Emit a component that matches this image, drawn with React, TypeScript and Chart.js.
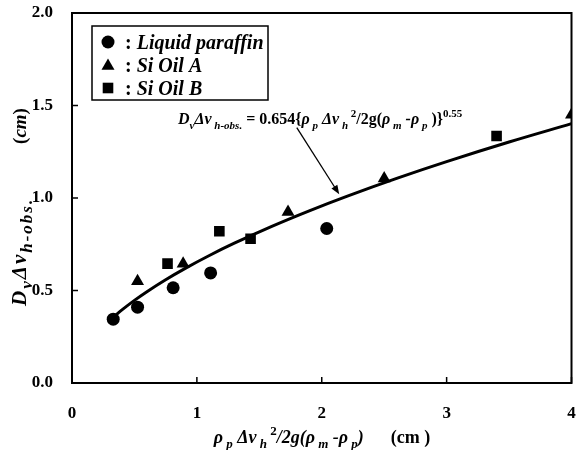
import React, { useEffect, useRef } from "react";
import { Chart, registerables } from "chart.js";

Chart.register(...registerables);

const FONT = "'Liberation Serif', 'Times New Roman', Times, serif";

// Measured points, one pair of arrays per liquid
const paraffinX = [0.33, 0.525, 0.81, 1.11, 2.04];
const paraffinY = [0.345, 0.41, 0.515, 0.595, 0.835];
const oilAX = [0.525, 0.89, 1.73, 2.5, 4.0];
const oilAY = [0.55, 0.645, 0.925, 1.105, 1.45];
const oilBX = [0.765, 1.18, 1.43, 3.4];
const oilBY = [0.645, 0.82, 0.78, 1.335];

// Correlation D_v Δv = 0.654 {…}^0.55, evaluated at these abscissae
const FIT_COEF = 0.654;
const FIT_EXP = 0.55;
const fitX = [0.33, 0.4, 0.5, 0.6, 0.75, 0.9, 1.1, 1.3, 1.6, 1.9, 2.2, 2.6, 3.0, 3.5, 4.0];

const xTicks = [0, 1, 2, 3, 4];
const yTicks = [0, 0.5, 1.0, 1.5, 2.0];

const seriesNames = ["Liquid paraffin", "Si Oil A", "Si Oil B"];
const seriesStyles = ["circle", "triangle", "rect"];

type Seg = { t: string; it?: boolean; pos?: "sub" | "sup" };

function segFont(seg: Seg, size: number, ratio: number) {
  const s = seg.pos ? Math.round(size * ratio) : size;
  return `${seg.it ? "italic " : ""}bold ${s}px ${FONT}`;
}

function richWidth(ctx: CanvasRenderingContext2D, segs: Seg[], size: number, ratio = 0.7) {
  let w = 0;
  for (const seg of segs) {
    ctx.font = segFont(seg, size, ratio);
    w += ctx.measureText(seg.t).width;
  }
  return w;
}

function drawRich(
  ctx: CanvasRenderingContext2D,
  segs: Seg[],
  x: number,
  y: number,
  size: number,
  ratio = 0.7
) {
  let cx = x;
  ctx.textBaseline = "alphabetic";
  ctx.textAlign = "left";
  for (const seg of segs) {
    ctx.font = segFont(seg, size, ratio);
    const dy = seg.pos === "sub" ? size * 0.3 : seg.pos === "sup" ? -size * 0.45 : 0;
    ctx.fillText(seg.t, cx, y + dy);
    cx += ctx.measureText(seg.t).width;
  }
}

function drawMarker(ctx: CanvasRenderingContext2D, style: string, x: number, y: number, r: number) {
  ctx.beginPath();
  if (style === "circle") {
    ctx.arc(x, y, r, 0, Math.PI * 2);
  } else if (style === "triangle") {
    for (let k = 0; k < 3; k++) {
      const a = (k * 2 * Math.PI) / 3;
      const px = x + Math.sin(a) * r;
      const py = y - Math.cos(a) * r;
      if (k === 0) ctx.moveTo(px, py);
      else ctx.lineTo(px, py);
    }
    ctx.closePath();
  } else {
    const s = r * Math.SQRT1_2;
    ctx.rect(x - s, y - s, 2 * s, 2 * s);
  }
  ctx.fill();
}

const equationSegs: Seg[] = [
  { t: "D", it: true },
  { t: "v", it: true, pos: "sub" },
  { t: "Δv", it: true },
  { t: " h-obs.", it: true, pos: "sub" },
  { t: " = 0.654{" },
  { t: "ρ", it: true },
  { t: " p", it: true, pos: "sub" },
  { t: " Δv", it: true },
  { t: " h", it: true, pos: "sub" },
  { t: " 2", pos: "sup" },
  { t: "/2g(" },
  { t: "ρ", it: true },
  { t: " m", it: true, pos: "sub" },
  { t: " -ρ", it: true },
  { t: " p", it: true, pos: "sub" },
  { t: " )}" },
  { t: "0.55", pos: "sup" },
];

const yTitleMain: Seg[] = [
  { t: "D", it: true },
  { t: "v", it: true, pos: "sub" },
  { t: "Δv", it: true },
  { t: "h-obs.", it: true, pos: "sub" },
];
const yTitleUnit: Seg[] = [{ t: "(" }, { t: "cm", it: true }, { t: ")" }];

const xTitleSegs: Seg[] = [
  { t: "ρ", it: true },
  { t: " p", it: true, pos: "sub" },
  { t: " Δv", it: true },
  { t: " h", it: true, pos: "sub" },
  { t: " 2", pos: "sup" },
  { t: "/2g(", it: true },
  { t: "ρ", it: true },
  { t: " m", it: true, pos: "sub" },
  { t: " -ρ", it: true },
  { t: " p", it: true, pos: "sub" },
  { t: ")", it: true },
  { t: "      (cm )" },
];

// Annotation arrow, in data units
const arrowFrom = { x: 1.8, y: 1.38 };
const arrowTo = { x: 2.14, y: 1.02 };

const decorations = {
  id: "decorations",
  afterDraw(chart: any) {
    const ctx: CanvasRenderingContext2D = chart.ctx;
    const { left, right, top, bottom } = chart.chartArea;
    const xs = chart.scales.x;
    const ys = chart.scales.y;
    ctx.save();
    ctx.fillStyle = "#000";
    ctx.strokeStyle = "#000";

    // Frame
    ctx.lineWidth = 2;
    ctx.strokeRect(left, top, right - left, bottom - top);

    // Inward tick marks
    ctx.lineWidth = 1.5;
    ctx.beginPath();
    for (const v of yTicks) {
      const py = ys.getPixelForValue(v);
      ctx.moveTo(left, py);
      ctx.lineTo(left + 6, py);
    }
    for (const v of xTicks) {
      const px = xs.getPixelForValue(v);
      ctx.moveTo(px, bottom);
      ctx.lineTo(px, bottom - 6);
    }
    ctx.stroke();

    // Legend box
    ctx.lineWidth = 1.5;
    ctx.strokeRect(92, 26, 176, 74);
    const rowsY = [42, 65, 88];
    const radii = [6.5, 7.5, 7.5];
    seriesNames.forEach((name, i) => {
      drawMarker(ctx, seriesStyles[i], 108, rowsY[i] + (i === 1 ? 1 : 0), radii[i]);
      drawRich(ctx, [{ t: ":" }, { t: " " + name, it: true }], 125, rowsY[i] + 7, 20);
    });

    // Correlation equation
    drawRich(ctx, equationSegs, 178, 124, 16);

    // Arrow pointing to the curve
    const ax0 = xs.getPixelForValue(arrowFrom.x);
    const ay0 = ys.getPixelForValue(arrowFrom.y);
    const ax1 = xs.getPixelForValue(arrowTo.x);
    const ay1 = ys.getPixelForValue(arrowTo.y);
    const ang = Math.atan2(ay1 - ay0, ax1 - ax0);
    const hl = 9;
    const hw = 3.5;
    ctx.lineWidth = 1.3;
    ctx.beginPath();
    ctx.moveTo(ax0, ay0);
    ctx.lineTo(ax1 - Math.cos(ang) * hl * 0.8, ay1 - Math.sin(ang) * hl * 0.8);
    ctx.stroke();
    ctx.beginPath();
    ctx.moveTo(ax1, ay1);
    ctx.lineTo(ax1 - Math.cos(ang) * hl - Math.sin(ang) * hw, ay1 - Math.sin(ang) * hl + Math.cos(ang) * hw);
    ctx.lineTo(ax1 - Math.cos(ang) * hl + Math.sin(ang) * hw, ay1 - Math.sin(ang) * hl - Math.cos(ang) * hw);
    ctx.closePath();
    ctx.fill();

    // Axis titles
    const xw = richWidth(ctx, xTitleSegs, 18);
    drawRich(ctx, xTitleSegs, 322 - xw / 2, 443, 18);

    ctx.save();
    ctx.translate(26, 0);
    ctx.rotate(-Math.PI / 2);
    // rotated frame: x runs upward along the page (x = -pageY)
    (ctx as any).letterSpacing = "2px";
    drawRich(ctx, yTitleMain, -306, 0, 21, 0.8);
    (ctx as any).letterSpacing = "0px";
    const uw = richWidth(ctx, yTitleUnit, 19);
    drawRich(ctx, yTitleUnit, -126 - uw / 2, 0, 19);
    ctx.restore();

    ctx.restore();
  },
};

const clearPadding = (s: any) => {
  s.paddingTop = 0;
  s.paddingBottom = 0;
  s.paddingLeft = 0;
  s.paddingRight = 0;
};

export default function App() {
  const canvasRef = useRef<HTMLCanvasElement | null>(null);

  useEffect(() => {
    const canvas = canvasRef.current;
    if (!canvas) return;

    const pts = (xv: number[], yv: number[]) => xv.map((x, i) => ({ x, y: yv[i] }));
    const fitPts = fitX.map((x) => ({ x, y: FIT_COEF * Math.pow(x, FIT_EXP) }));

    const tickFont = { family: FONT, size: 17, weight: "bold" as const };

    const chart = new Chart(canvas, {
      type: "scatter",
      data: {
        datasets: [
          {
            label: "Fit",
            data: fitPts,
            showLine: true,
            borderColor: "#000",
            borderWidth: 3,
            pointRadius: 0,
            tension: 0.4,
            order: 2,
          },
          {
            label: seriesNames[0],
            data: pts(paraffinX, paraffinY),
            pointStyle: "circle",
            pointRadius: 6.5,
            pointBorderWidth: 0,
            backgroundColor: "#000",
            borderColor: "#000",
            order: 1,
          },
          {
            label: seriesNames[1],
            data: pts(oilAX, oilAY),
            pointStyle: "triangle",
            pointRadius: 7.5,
            pointBorderWidth: 0,
            backgroundColor: "#000",
            borderColor: "#000",
            order: 1,
          },
          {
            label: seriesNames[2],
            data: pts(oilBX, oilBY),
            pointStyle: "rect",
            pointRadius: 7.5,
            pointBorderWidth: 0,
            backgroundColor: "#000",
            borderColor: "#000",
            order: 1,
          },
        ],
      },
      options: {
        animation: false,
        responsive: false,
        devicePixelRatio: 1,
        layout: { padding: { top: 13, right: 4, left: 0, bottom: 0 } },
        plugins: {
          legend: { display: false },
          tooltip: { enabled: false },
          title: { display: false },
        },
        scales: {
          x: {
            type: "linear",
            min: 0,
            max: 4,
            afterBuildTicks: (s: any) => {
              s.ticks = xTicks.map((v) => ({ value: v }));
            },
            afterFit: (s: any) => {
              s.height = 67;
              clearPadding(s);
            },
            ticks: {
              color: "#000",
              font: tickFont,
              padding: 20,
              maxRotation: 0,
              callback: (v: any) => String(v),
            },
            grid: { display: false, drawTicks: false },
            border: { display: false },
          },
          y: {
            type: "linear",
            min: 0,
            max: 2,
            afterBuildTicks: (s: any) => {
              s.ticks = yTicks.map((v) => ({ value: v }));
            },
            afterFit: (s: any) => {
              s.width = 72;
              clearPadding(s);
            },
            ticks: {
              color: "#000",
              font: tickFont,
              padding: 19,
              callback: (v: any) => Number(v).toFixed(1),
            },
            grid: { display: false, drawTicks: false },
            border: { display: false },
          },
        },
      },
      plugins: [decorations],
    });

    return () => chart.destroy();
  }, []);

  return (
    <div style={{ position: "fixed", left: 0, top: 0, width: 579, height: 450, background: "#fff" }}>
      <canvas ref={canvasRef} width={579} height={450} style={{ display: "block" }} />
    </div>
  );
}
